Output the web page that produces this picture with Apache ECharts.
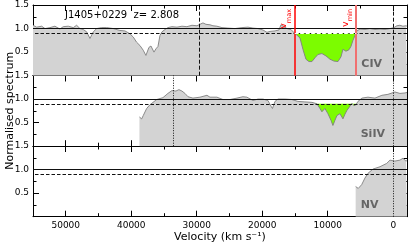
<!DOCTYPE html>
<html><head><meta charset="utf-8">
<script src="https://cdn.jsdelivr.net/npm/echarts@6/dist/echarts.min.js"></script>
<style>html,body{margin:0;padding:0;background:#fff}#c{width:415px;height:245px}</style>
</head><body><div id="c"></div>
<script>
// ---- data ----
const civVel = [55000,54440,53680,53170,52410,51650,50890,50380,49620,48850,48340,47830,47330,46810,46300,46050,45800,45280,44520,43760,42750,41730,40960,40200,39690,39180,38670,38170,37760,37300,36990,36530,36230,35920,35620,35310,34850,34400,33790,33020,32260,31500,30730,29970,29360,29050,28590,27980,27530,26920,26150,25240,24170,23100,22180,21420,20660,19890,19280,18820,18060,17450,17140,16920,16690,16230,15620,15050,14700,14240,13790,13330,12870,12410,11950,11500,10890,10270,9660,9050,8440,7980,7680,7220,6760,6460,6150,5850,5540,5080,4320,3560,2790,2030,1270,500,-110,-560,-1020,-1480,-1940,-2100];
const civFlux = [1.07,1.03,1.05,1.00,1.02,1.05,0.99,1.04,1.05,1.02,1.07,1.00,0.98,0.93,0.79,0.80,0.93,1.00,1.02,1.02,1.00,0.96,0.95,0.89,0.82,0.71,0.64,0.54,0.43,0.60,0.63,0.50,0.57,0.62,0.85,0.93,0.98,1.02,1.04,1.03,1.05,1.04,1.07,1.06,1.10,1.12,1.09,1.08,1.06,1.05,1.02,1.01,1.00,1.02,1.03,1.01,1.00,0.97,0.92,0.94,0.95,0.97,1.08,1.12,1.04,1.00,0.98,0.90,0.86,0.80,0.56,0.35,0.30,0.30,0.38,0.45,0.47,0.42,0.35,0.31,0.30,0.40,0.56,0.52,0.55,0.62,0.75,0.85,0.95,0.99,0.98,1.00,0.98,0.99,0.98,1.00,1.02,1.06,1.07,1.05,1.06,1.05];
const siivVel = [38750,38410,38170,37650,37140,36840,36120,35160,34400,33790,33180,32720,32260,31800,31340,30580,29510,28440,27980,26920,26000,24930,23860,22950,22340,21420,20660,19890,19130,18670,18440,18060,17600,16530,15470,14550,13480,12410,11650,11190,10890,10430,9970,9510,9210,8900,8600,8140,7680,7370,7070,6610,6310,6000,5690,5390,4780,3860,2790,1730,810,-260,-1020,-1790,-2100];
const siivFlux = [0.62,0.58,0.65,0.80,0.88,0.91,0.99,1.03,1.12,1.18,1.17,1.20,1.17,1.12,1.05,1.02,1.04,1.08,1.04,1.04,0.99,0.99,1.02,1.05,1.04,0.97,1.00,1.00,0.97,0.85,0.80,0.95,1.00,1.00,0.99,0.95,0.94,0.93,0.90,0.80,0.73,0.80,0.69,0.55,0.44,0.55,0.65,0.69,0.58,0.68,0.76,0.85,0.91,0.86,0.88,0.95,1.02,1.04,1.02,1.08,1.10,1.15,1.12,1.13,1.14];
const nvVel = [5740,5340,4820,4320,3860,3100,2030,1010,500,-260,-1020,-1480,-1940,-2100];
const nvFlux = [0.64,0.60,0.68,0.82,0.92,1.01,1.06,1.13,1.20,1.18,1.20,1.24,1.18,1.19];

const vMax = 15050;
const vMin = 5650;
const contLevel = 1.0;
const threshold = 0.9;
const civMarks = [29600, 0];
const siivMarks = [33600, 0];
const nvMarks = [0];
const xMajor = [0, 10000, 20000, 30000, 40000, 50000];
const xMinor = [5000, 15000, 25000, 35000, 45000];
const yMajor = [0.5, 1.0, 1.5];
const yMinor = [0.25, 0.75, 1.25];
const ionNames = ['CIV', 'SiIV', 'NV'];
const objectLabel = 'J1405+0229  z= 2.808';
const xTitle = 'Velocity (km s\u207B\u00B9)';
const yTitle = 'Normalised spectrum';

// ---- chart ----
const FONT = 'DejaVu Sans';
const tops = [5, 75.5, 146];
const grids = tops.map(t => ({left: 33, right: 8, top: t, height: 70.7, containLabel: false, outerBoundsMode: 'none'}));
const xAxes = [], yAxes = [];
const tk = (vals, len) => ({show: true, inside: true, length: len, customValues: vals, lineStyle: {color: '#000', width: 1}});
for (let g = 0; g < 3; g++) {
  const bx = {type: 'value', gridIndex: g, min: -2100, max: 55000, inverse: true, splitLine: {show: false}};
  xAxes.push(Object.assign({}, bx, {position: 'bottom',
    axisLine: {show: true, onZero: false, lineStyle: {color: '#000', width: 1}},
    axisTick: tk(xMajor, 6),
    axisLabel: {show: g === 2, customValues: xMajor, fontSize: 9, color: '#000', fontFamily: FONT, margin: 4, formatter: v => String(v)},
    name: g === 2 ? xTitle : '', nameLocation: 'middle', nameGap: 14.5, nameMoveOverlap: false,
    nameTextStyle: {fontSize: 11, color: '#000', fontFamily: FONT}}));
  xAxes.push(Object.assign({}, bx, {position: 'bottom', axisLine: {show: false, onZero: false}, axisTick: tk(xMinor, 3.5), axisLabel: {show: false}}));
  xAxes.push(Object.assign({}, bx, {position: 'top', axisLine: {show: true, onZero: false, lineStyle: {color: '#000', width: 1}}, axisTick: tk(xMajor, 6), axisLabel: {show: false}}));
  xAxes.push(Object.assign({}, bx, {position: 'top', axisLine: {show: false, onZero: false}, axisTick: tk(xMinor, 3.5), axisLabel: {show: false}}));

  const by = {type: 'value', gridIndex: g, min: 0, max: 1.5, splitLine: {show: false}};
  yAxes.push(Object.assign({}, by, {position: 'left',
    axisLine: {show: true, onZero: false, lineStyle: {color: '#000', width: 1}},
    axisTick: tk(yMajor, 6),
    axisLabel: {show: true, customValues: yMajor, fontSize: 9, color: '#000', fontFamily: FONT, margin: 4, formatter: v => v.toFixed(1)},
    name: g === 1 ? yTitle : '', nameLocation: 'middle', nameGap: 17, nameMoveOverlap: false,
    nameTextStyle: {fontSize: 11, color: '#000', fontFamily: FONT}}));
  yAxes.push(Object.assign({}, by, {position: 'left', axisLine: {show: false, onZero: false}, axisTick: tk(yMinor, 3.5), axisLabel: {show: false}}));
  yAxes.push(Object.assign({}, by, {position: 'right', axisLine: {show: true, onZero: false, lineStyle: {color: '#000', width: 1}}, axisTick: tk(yMajor, 6), axisLabel: {show: false}}));
  yAxes.push(Object.assign({}, by, {position: 'right', axisLine: {show: false, onZero: false}, axisTick: tk(yMinor, 3.5), axisLabel: {show: false}}));
}

const panels = [
  {vel: civVel, flux: civFlux, marks: civMarks, markType: [4, 2], green: true},
  {vel: siivVel, flux: siivFlux, marks: siivMarks, markType: [1, 1.5], green: true},
  {vel: nvVel, flux: nvFlux, marks: nvMarks, markType: [1, 1.5], green: false}
];
const series = [];
panels.forEach((p, g) => {
  const ax = {xAxisIndex: 4 * g, yAxisIndex: 4 * g};
  const pts = p.vel.map((v, i) => [v, p.flux[i]]);
  if (p.green) {
    // green absorption between vmax and vmin below threshold; opaque grey spectrum fill drawn over it
    const inFlux = p.flux.filter((f, i) => p.vel[i] >= vMin && p.vel[i] <= vMax);
    const floor = Math.max(0, Math.min.apply(null, inFlux) - 0.05);
    series.push(Object.assign({type: 'line', data: [], z: 1, animation: false, silent: true,
      markArea: {silent: true, animation: false, itemStyle: {color: '#7CFC00', opacity: 1},
        data: [[{xAxis: vMax, yAxis: floor}, {xAxis: vMin, yAxis: threshold}]]}}, ax));
  }
  series.push(Object.assign({type: 'line', data: pts, showSymbol: false, silent: true, z: 2, animation: false,
    lineStyle: {width: 0, opacity: 0}, areaStyle: {color: '#d3d3d3', opacity: 1, origin: 'start'}}, ax));
  const mlData = [
    {yAxis: contLevel, lineStyle: {color: '#111', width: 1, type: 'solid'}},
    {yAxis: threshold, lineStyle: {color: '#111', width: 1, type: [3.5, 2]}}
  ].concat(p.marks.map(m => ({xAxis: m, lineStyle: {color: '#111', width: 1, type: p.markType}})));
  series.push(Object.assign({type: 'line', data: pts, showSymbol: false, silent: true, z: 4, animation: false,
    lineStyle: {color: '#7f7f7f', width: 0.9},
    markLine: {symbol: 'none', silent: true, animation: false, label: {show: false}, data: mlData}}, ax));
});

// red velocity limits in the CIV panel
const redRich = {
  v: {fontSize: 9.5, color: '#ff0000', fontFamily: FONT, lineHeight: 10, verticalAlign: 'top'},
  s: {fontSize: 6.5, color: '#ff0000', fontFamily: FONT, lineHeight: 14, verticalAlign: 'bottom'}
};
series.push({type: 'line', xAxisIndex: 0, yAxisIndex: 0, data: [], z: 6, animation: false,
  markLine: {symbol: 'none', silent: true, animation: false,
    data: [
      {xAxis: vMax, lineStyle: {color: '#ff0000', width: 1.5, type: 'solid'},
        label: {show: true, position: 'insideEndTop', distance: [4, 2], formatter: '{v|v}{s|max}', rich: redRich}},
      {xAxis: vMin, lineStyle: {color: '#f07070', width: 2, type: 'solid'},
        label: {show: true, position: 'insideEndTop', distance: [4, 2], formatter: '{v|v}{s|min}', rich: redRich}},
      [{coord: [vMax, threshold], lineStyle: {color: '#ffffff', width: 1, type: [3.5, 2]}, label: {show: false}}, {coord: [vMin, threshold]}]
    ]}});

const titles = [
  {text: objectLabel, left: 65, top: 10, padding: 0, textStyle: {fontSize: 10, fontWeight: 'normal', color: '#000', fontFamily: FONT}},
  {text: ionNames[0], right: 33, top: 58.5, padding: 0, textStyle: {fontSize: 11, fontWeight: 'bold', color: '#666', fontFamily: FONT}},
  {text: ionNames[1], right: 30, top: 129, padding: 0, textStyle: {fontSize: 11, fontWeight: 'bold', color: '#666', fontFamily: FONT}},
  {text: ionNames[2], right: 36.5, top: 200, padding: 0, textStyle: {fontSize: 11, fontWeight: 'bold', color: '#666', fontFamily: FONT}}
];

const chart = echarts.init(document.getElementById('c'), null, {renderer: 'canvas'});
chart.setOption({
  animation: false,
  backgroundColor: '#fff',
  textStyle: {fontFamily: FONT},
  title: titles,
  grid: grids,
  xAxis: xAxes,
  yAxis: yAxes,
  series: series
});
</script></body></html>
